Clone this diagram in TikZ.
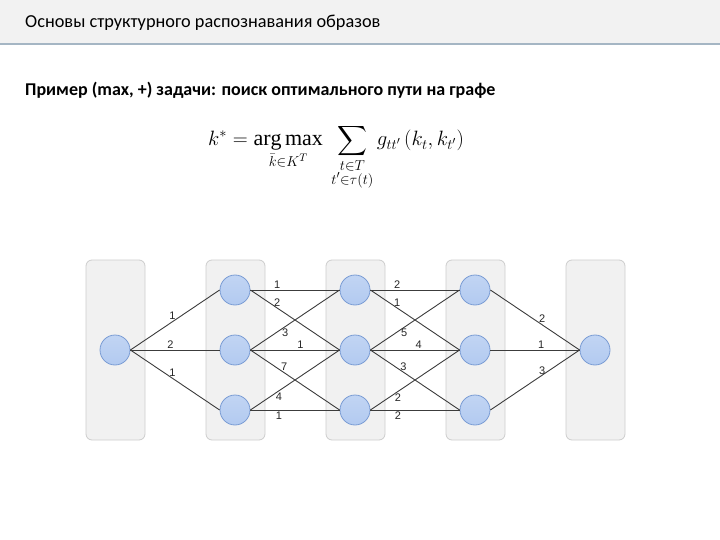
\documentclass[tikz,border=0pt]{standalone}
\usepackage{amsmath}
\usepackage{fontspec}
\setmainfont{Carlito}
\setmathrm{Liberation Serif}
\newfontfamily\labelfont{Liberation Sans}
\definecolor{bandgray}{RGB}{242,242,242}
\definecolor{bandline}{RGB}{165,182,196}
\definecolor{panelfill}{RGB}{241,241,241}
\definecolor{paneldraw}{RGB}{205,205,205}
\definecolor{vertexfill}{RGB}{178,202,240}
\definecolor{vertexdraw}{RGB}{122,156,212}
\definecolor{edgecol}{RGB}{60,60,60}
\tikzset{
  panel/.style={draw=paneldraw,fill=panelfill,rounded corners=6pt,line width=0.8pt},
  vertex/.style={circle,draw=vertexdraw,top color=vertexfill!80!white,bottom color=vertexfill,minimum size=30pt,inner sep=0pt,line width=0.8pt},
  edge/.style={draw=edgecol,line width=0.9pt},
  wt/.style={font=\labelfont\fontsize{11}{13}\selectfont,inner sep=1.5pt,text=black!85}
}
\begin{document}
\begin{tikzpicture}[x=1pt,y=-1pt]
  \useasboundingbox (0,0) rectangle (720,540);
  % header
  \fill[bandgray] (0,0) rectangle (720,43);
  \draw[bandline,line width=2pt] (0,44) -- (720,44);
  \node[anchor=base west,inner sep=0pt,font=\fontsize{18.3}{21}\selectfont] (title) at (25,28) {Основы структурного распознавания образов};
  \node[anchor=base west,inner sep=0pt,font=\bfseries\fontsize{18}{21}\selectfont] (task) at (25,96) {Пример (max, +) задачи: поиск оптимального пути на графе};
  \node[inner sep=0pt,font=\fontsize{22}{26}\selectfont] (goal) at (336,157)
    {$\displaystyle k^{*}=\mathop{\mathrm{arg\,max}}\limits_{\bar k\in K^{T}}\ \sum\limits_{\substack{t\in T\\ t'\in\tau(t)}} g_{tt'}\left(k_{t},k_{t'}\right)$};
  % columns
  \draw[panel] (86,260) rectangle (145,440);
  \draw[panel] (206,260) rectangle (265,440);
  \draw[panel] (326,260) rectangle (385,440);
  \draw[panel] (446,260) rectangle (505,440);
  \draw[panel] (566,260) rectangle (625,440);
  % vertices
  \node[vertex] (s) at (115,350) {};
  \node[vertex] (a1) at (235,290) {};
  \node[vertex] (a2) at (235,350) {};
  \node[vertex] (a3) at (235,410) {};
  \node[vertex] (b1) at (355,290) {};
  \node[vertex] (b2) at (355,350) {};
  \node[vertex] (b3) at (355,410) {};
  \node[vertex] (c1) at (475,290) {};
  \node[vertex] (c2) at (475,350) {};
  \node[vertex] (c3) at (475,410) {};
  \node[vertex] (f) at (595,350) {};
  % first layer
  \draw[edge] (s.east) -- node[wt,pos=.47,above] {1} (a1.west);
  \draw[edge] (s.east) -- node[wt,pos=.45,above] {2} (a2.west);
  \draw[edge] (s.east) -- node[wt,pos=.47,above] {1} (a3.west);
  % second layer
  \draw[edge] (a1.east) -- node[wt,pos=.3,above] {1} (b1.west);
  \draw[edge] (a1.east) -- node[wt,pos=.3,above] {2} (b2.west);
  \draw[edge] (a2.east) -- node[wt,pos=.39,below] {3} (b1.west);
  \draw[edge] (a2.east) -- node[wt,pos=.56,above] {1} (b2.west);
  \draw[edge] (a2.east) -- node[wt,pos=.38,above] {7} (b3.west);
  \draw[edge] (a3.east) -- node[wt,pos=.32,below] {4} (b2.west);
  \draw[edge] (a3.east) -- node[wt,pos=.32,below] {1} (b3.west);
  % third layer
  \draw[edge] (b1.east) -- node[wt,pos=.3,above] {2} (c1.west);
  \draw[edge] (b1.east) -- node[wt,pos=.3,above] {1} (c2.west);
  \draw[edge] (b2.east) -- node[wt,pos=.38,below] {5} (c1.west);
  \draw[edge] (b2.east) -- node[wt,pos=.54,above] {4} (c2.west);
  \draw[edge] (b2.east) -- node[wt,pos=.37,above] {3} (c3.west);
  \draw[edge] (b3.east) -- node[wt,pos=.31,below] {2} (c2.west);
  \draw[edge] (b3.east) -- node[wt,pos=.31,below] {2} (c3.west);
  % last layer
  \draw[edge] (c1.east) -- node[wt,pos=.58,above] {2} (f.west);
  \draw[edge] (c2.east) -- node[wt,pos=.57,above] {1} (f.west);
  \draw[edge] (c3.east) -- node[wt,pos=.58,above=-1pt] {3} (f.west);
\end{tikzpicture}
\end{document}
